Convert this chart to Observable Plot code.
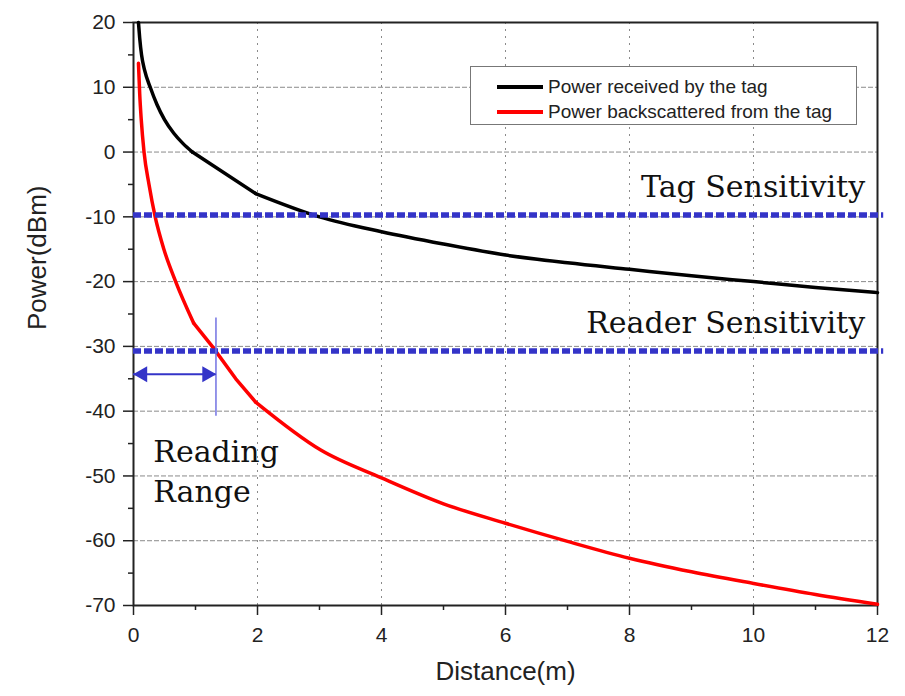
<!DOCTYPE html>
<html>
<head>
<meta charset="utf-8">
<script src="https://cdn.jsdelivr.net/npm/d3@7"></script>
<script src="https://cdn.jsdelivr.net/npm/@observablehq/plot@0.6"></script>
<style>
  body { margin: 0; background: #fff; }
  #chart { position: relative; width: 905px; height: 696px; }
  .legend {
    position: absolute; left: 470px; top: 66px; width: 387px; height: 59px;
    box-sizing: border-box; border: 1px solid #777; background: #fff;
    font-family: "Liberation Sans", Arial, sans-serif; font-size: 19px; color: #222;
  }
  .legend .row { position: absolute; left: 26px; height: 22px; display: flex; align-items: center; white-space: nowrap; }
  .legend .sw { width: 46px; height: 4px; margin-right: 5px; }
</style>
</head>
<body>
<div id="chart"></div>
<script>
// Link budget of a passive RFID tag versus reader distance
const seriesNames = ["Power received by the tag", "Power backscattered from the tag"];
const seriesColors = ["#000000", "#ff0000"];

// Forward link: power received by the tag (dBm)
const tagDistance = [0.08, 0.1, 0.13, 0.18, 0.27, 0.38, 0.5, 0.65, 0.8, 0.95, 1.97, 3, 4, 5, 6, 7, 8, 9, 10, 11, 12];
const tagPower    = [20, 17.6, 15, 12.6, 10, 7.3, 5, 2.9, 1.3, 0, -6.4, -10, -12.3, -14.2, -15.9, -17.1, -18.1, -19.1, -20, -20.9, -21.7];

// Return link: power backscattered from the tag (dBm)
const backDistance = [0.08, 0.1, 0.125, 0.17, 0.25, 0.35, 0.49, 0.68, 0.97, 1.27, 1.65, 1.97, 3.02, 4, 5, 6, 7, 8, 9, 10, 11, 12];
const backPower    = [13.7, 9, 5, 0, -5, -10, -15, -20, -26.4, -30, -35, -38.6, -46, -50.3, -54.3, -57.3, -60.1, -62.7, -64.8, -66.6, -68.3, -69.8];

// Samples below 1 m and beyond 1.9 m are joined smoothly; the span between is straight
const nearLimit = 1;
const farStart = 1.9;

// Sensitivity thresholds (dBm)
const sensitivityLevels = [-9.7, -30.7];
const sensitivityLabels = ["Tag Sensitivity", "Reader Sensitivity"];
const sensitivityLabelY = [-6.9, -28];
const sensitivityLabelX = 11.8;

// Reading range: distance where the backscattered power meets the reader sensitivity
const readingRange = 1.33;
const readingRangeSpan = [-25.6, -40.8];
const readingArrowY = -34.3;
const readingLabels = ["Reading", "Range"];
const readingLabelY = [-47.8, -54];
const readingLabelX = 0.32;

// Axis ticks
const xTicks = [0, 2, 4, 6, 8, 10, 12];
const xMinorTicks = [1, 3, 5, 7, 9, 11];
const yTicks = [-70, -60, -50, -40, -30, -20, -10, 0, 10, 20];
const yMinorTicks = [-65, -55, -45, -35, -25, -15, -5, 5, 15];

const toRows = (ds, ps) => ds.map((d, i) => ({distance: d, power: ps[i]}));
const tagRows = toRows(tagDistance, tagPower);
const backRows = toRows(backDistance, backPower);

const blue = "#3434c8";
const serif = "'DejaVu Serif', 'Liberation Serif', serif";
const sans = "'Liberation Sans', Arial, sans-serif";

function curveMarks(rows, color) {
  const near = rows.filter(r => r.distance <= nearLimit);
  const far = rows.filter(r => r.distance >= farStart);
  const mid = [near[near.length - 1], ...rows.filter(r => r.distance > nearLimit && r.distance < farStart), far[0]];
  const style = {x: "distance", y: "power", stroke: color, strokeWidth: 3.5, strokeLinejoin: "round"};
  return [
    Plot.line(near, {...style, curve: "monotone-x"}),
    Plot.line(mid, style),
    Plot.line(far, {...style, curve: "monotone-x"})
  ];
}

const chart = Plot.plot({
  width: 905,
  height: 696,
  marginLeft: 133,
  marginRight: 28,
  marginTop: 22,
  marginBottom: 91,
  x: {domain: [0, 12]},
  y: {domain: [-70, 20]},
  style: {fontFamily: sans, fontSize: "21px", color: "#222", background: "#fff"},
  marks: [
    Plot.gridY(yTicks.filter(v => v > -70 && v < 20), {stroke: "#8a8a8a", strokeOpacity: 1, strokeWidth: 1, strokeDasharray: "5,2"}),
    Plot.gridX(xTicks.filter(v => v > 0 && v < 12), {stroke: "#8a8a8a", strokeOpacity: 1, strokeWidth: 1, strokeDasharray: "2,5"}),
    Plot.axisX(xTicks, {tickSize: 10, tickPadding: 12, tickFormat: d => String(d), label: null, strokeWidth: 1.5}),
    Plot.axisX(xMinorTicks, {tickSize: 5, tickFormat: () => "", label: null, strokeWidth: 1.5}),
    Plot.axisY(yTicks, {tickSize: 10, tickPadding: 8, tickFormat: d => String(d), label: null, strokeWidth: 1.5}),
    Plot.axisY(yMinorTicks, {tickSize: 5, tickFormat: () => "", label: null, strokeWidth: 1.5}),
    Plot.frame({stroke: "#222", strokeWidth: 2}),
    ...curveMarks(tagRows, seriesColors[0]),
    ...curveMarks(backRows, seriesColors[1]),
    Plot.ruleY(sensitivityLevels, {x1: 0, x2: 12.1, stroke: blue, strokeWidth: 5.5, strokeDasharray: "8,3"}),
    Plot.text(sensitivityLabels, {
      x: sensitivityLabelX, y: (d, i) => sensitivityLabelY[i], text: d => d,
      textAnchor: "end", lineAnchor: "bottom", fontFamily: serif, fontSize: 30, fill: "#111"
    }),
    Plot.ruleX([readingRange], {y1: readingRangeSpan[0], y2: readingRangeSpan[1], stroke: "#7272e2", strokeWidth: 1.5}),
    Plot.ruleY([readingArrowY], {x1: 0, x2: readingRange, stroke: blue, strokeWidth: 2}),
    Plot.dot([0], {x: d => d, y: readingArrowY, symbol: "triangle", r: 6, fill: blue, stroke: null, rotate: -90, dx: 9}),
    Plot.dot([readingRange], {x: d => d, y: readingArrowY, symbol: "triangle", r: 6, fill: blue, stroke: null, rotate: 90, dx: -9}),
    Plot.text(readingLabels, {
      x: readingLabelX, y: (d, i) => readingLabelY[i], text: d => d,
      textAnchor: "start", lineAnchor: "bottom", fontFamily: serif, fontSize: 30, fill: "#111"
    }),
    Plot.text(["Distance(m)"], {frameAnchor: "bottom", dy: 74, text: d => d, fontSize: 26, fill: "#222"}),
    Plot.text(["Power(dBm)"], {frameAnchor: "left", dx: -96, dy: 16, rotate: -90, text: d => d, fontSize: 26, fill: "#222"})
  ]
});

const root = document.getElementById("chart");
root.appendChild(chart);

// Legend box in the upper right of the plot area
const legend = document.createElement("div");
legend.className = "legend";
seriesNames.forEach((name, i) => {
  const row = document.createElement("div");
  row.className = "row";
  row.style.top = (9 + i * 25) + "px";
  const sw = document.createElement("span");
  sw.className = "sw";
  sw.style.background = seriesColors[i];
  const label = document.createElement("span");
  label.textContent = name;
  row.appendChild(sw);
  row.appendChild(label);
  legend.appendChild(row);
});
root.appendChild(legend);
</script>
</body>
</html>
